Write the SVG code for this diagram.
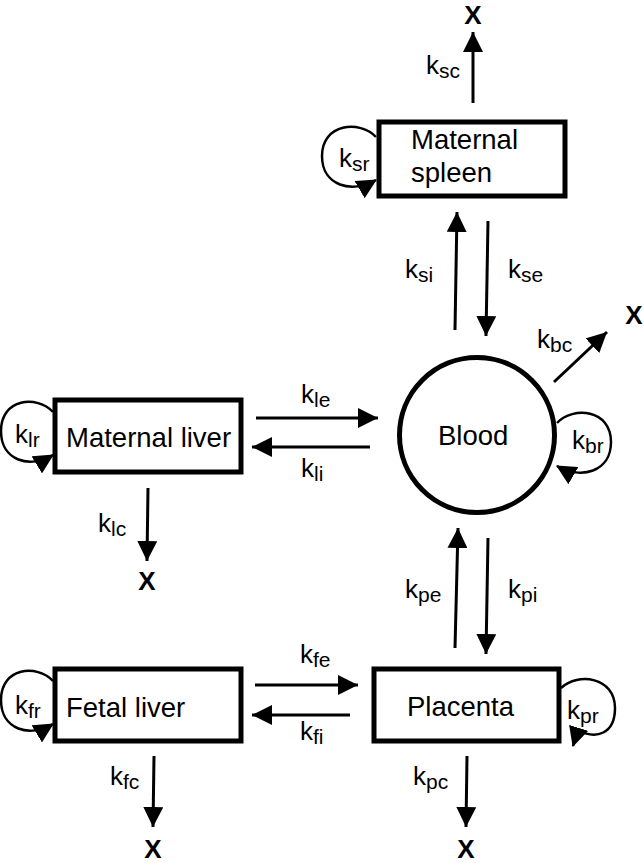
<svg xmlns="http://www.w3.org/2000/svg" width="644" height="863" viewBox="0 0 644 863">
<defs>
<style>
.box{fill:#fff;stroke:#000;stroke-width:5}
.lbl{font-family:"Liberation Sans",Arial,sans-serif;font-size:27.5px;fill:#000}
.k{font-family:"Liberation Sans",Arial,sans-serif;font-size:26px;fill:#000}
.sub{font-size:21px}
.x{font-family:"Liberation Sans",Arial,sans-serif;font-size:26px;font-weight:bold;fill:#000;text-anchor:middle}
.arr{fill:none;stroke:#000;stroke-width:3;marker-end:url(#ah)}
.loop{fill:none;stroke:#000;stroke-width:2.5;marker-end:url(#lh)}
</style>
<marker id="ah" viewBox="0 0 20 20" refX="20" refY="10" markerWidth="20" markerHeight="20" markerUnits="userSpaceOnUse" orient="auto">
<path d="M0,0 L20,10 L0,20 z" fill="#000"/>
</marker>
<marker id="lh" viewBox="0 0 20 20" refX="19" refY="10" markerWidth="20" markerHeight="20" markerUnits="userSpaceOnUse" orient="auto">
<path d="M0,0 L20,10 L0,20 z" fill="#000"/>
</marker>
</defs>
<rect width="644" height="863" fill="#fff"/>

<g id="spleen">
<rect class="box" x="379" y="122" width="186" height="74"/>
<text class="lbl" x="411" y="149">Maternal</text>
<text class="lbl" x="411" y="182">spleen</text>
</g>
<g id="liver">
<rect class="box" x="55" y="400" width="186" height="72"/>
<text class="lbl" x="66" y="447">Maternal liver</text>
</g>
<g id="blood">
<circle cx="477" cy="435" r="77.5" fill="#fff" stroke="#000" stroke-width="5"/>
<text class="lbl" x="438" y="445">Blood</text>
</g>
<g id="fetal">
<rect class="box" x="55" y="669" width="186" height="72"/>
<text class="lbl" x="66" y="717">Fetal liver</text>
</g>
<g id="placenta">
<rect class="box" x="374" y="669" width="185" height="72"/>
<text class="lbl" x="407" y="716">Placenta</text>
</g>

<g id="sinks">
<text class="x" x="473" y="24">X</text>
<text class="x" x="634" y="324">X</text>
<text class="x" x="147" y="590">X</text>
<text class="x" x="153" y="858">X</text>
<text class="x" x="466" y="858">X</text>
</g>

<g id="connectors">
<path class="arr" d="M473,103 L473,32"/>
<path class="arr" d="M455,330 L457,212"/>
<path class="arr" d="M488,221 L486,336"/>
<path class="arr" d="M554,382 L607,332"/>
<path class="arr" d="M256,418 L378,418"/>
<path class="arr" d="M370,447 L252,447"/>
<path class="arr" d="M148,488 L147,561"/>
<path class="arr" d="M455,648 L458,528"/>
<path class="arr" d="M488,538 L486,654"/>
<path class="arr" d="M255,685 L358,685"/>
<path class="arr" d="M350,715 L252,715"/>
<path class="arr" d="M154,756 L153,827"/>
<path class="arr" d="M467,756 L466,827"/>
<path class="loop" d="M376,137 C360,120 322,123 322,156 C322,186 352,194 376,180"/>
<path class="loop" d="M53,412 C37,395 1,398 1,431 C1,461 30,469 53,455"/>
<path class="loop" d="M53,681 C37,664 1,667 1,700 C1,730 30,738 53,724"/>
<path class="loop" d="M557,423 C573,406 611,409 611,442 C611,472 581,480 557,466"/>
<path class="loop" d="M561,688 C578,672 615,677 615,708 C615,734 596,740 578,730 L573,746"/>
</g>

<g id="labels">
<text class="k" x="426" y="74">k<tspan class="sub" dy="4">sc</tspan></text>
<text class="k" x="339" y="167">k<tspan class="sub" dy="4">sr</tspan></text>
<text class="k" x="405" y="278">k<tspan class="sub" dy="4">si</tspan></text>
<text class="k" x="508" y="278">k<tspan class="sub" dy="4">se</tspan></text>
<text class="k" x="537" y="348">k<tspan class="sub" dy="4">bc</tspan></text>
<text class="k" x="301" y="403">k<tspan class="sub" dy="4">le</tspan></text>
<text class="k" x="301" y="477">k<tspan class="sub" dy="4">li</tspan></text>
<text class="k" x="15" y="443">k<tspan class="sub" dy="4">lr</tspan></text>
<text class="k" x="572" y="449">k<tspan class="sub" dy="4">br</tspan></text>
<text class="k" x="98" y="532">k<tspan class="sub" dy="4">lc</tspan></text>
<text class="k" x="405" y="598">k<tspan class="sub" dy="4">pe</tspan></text>
<text class="k" x="508" y="598">k<tspan class="sub" dy="4">pi</tspan></text>
<text class="k" x="300" y="663">k<tspan class="sub" dy="4">fe</tspan></text>
<text class="k" x="300" y="740">k<tspan class="sub" dy="4">fi</tspan></text>
<text class="k" x="15" y="714">k<tspan class="sub" dy="4">fr</tspan></text>
<text class="k" x="567" y="719">k<tspan class="sub" dy="4">pr</tspan></text>
<text class="k" x="110" y="785">k<tspan class="sub" dy="4">fc</tspan></text>
<text class="k" x="413" y="785">k<tspan class="sub" dy="4">pc</tspan></text>
</g>
</svg>
